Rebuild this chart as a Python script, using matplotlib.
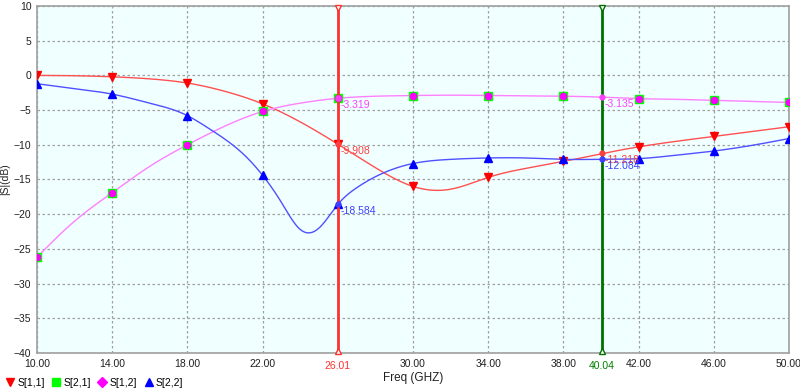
import numpy as np
import matplotlib
matplotlib.use("Agg")
import matplotlib.pyplot as plt

plt.rcParams["font.family"] = ["Liberation Sans", "DejaVu Sans"]

# ---- data ----
freq_marks = [10, 14, 18, 22, 26, 30, 34, 38, 42, 46, 50]
s11_marks = [0.0, -0.2, -1.1, -4.1, -9.9, -16.0, -14.7, -12.4, -10.3, -8.8, -7.4]
s21_marks = [-26.2, -16.9, -10.0, -5.2, -3.3, -2.9, -2.9, -3.0, -3.35, -3.6, -3.9]
s12_marks = [-26.2, -16.9, -10.0, -5.2, -3.3, -2.9, -2.9, -3.0, -3.35, -3.6, -3.9]
s22_marks = [-1.2, -2.7, -5.8, -14.4, -18.6, -12.7, -11.9, -12.1, -12.0, -10.9, -9.1]

# denser trace samples
freq_trace = [10, 12, 14, 16, 18, 20, 22, 24, 26, 28, 30, 32, 34, 36, 38, 40, 42, 44, 46, 48, 50]
s11_trace = [0.0, -0.05, -0.2, -0.5, -1.1, -2.3, -4.1, -6.7, -9.9, -13.3, -16.0, -16.4,
             -14.7, -13.4, -12.4, -11.3, -10.3, -9.5, -8.8, -8.1, -7.4]
s21_trace = [-26.2, -21.0, -16.9, -13.1, -10.0, -7.3, -5.2, -4.0, -3.3, -3.0, -2.9, -2.85,
             -2.9, -2.95, -3.0, -3.13, -3.35, -3.45, -3.6, -3.75, -3.9]
freq_trace22 = [10, 12, 14, 16, 18, 19, 20, 21, 22, 23, 24, 25, 26, 27, 28, 30, 32, 34,
                36, 38, 40, 42, 44, 46, 48, 50]
s22_trace = [-1.2, -1.9, -2.7, -4.0, -5.8, -7.4, -9.2, -11.4, -14.4, -18.3, -22.2, -22.0,
             -18.6, -16.2, -14.6, -12.7, -12.1, -11.9, -11.9, -12.1, -12.1, -12.0, -11.5,
             -10.9, -10.1, -9.1]

tick_vals = [10, 14, 18, 22, 30, 34, 38, 42, 46, 50]
tick_labels = ["10.00", "14.00", "18.00", "22.00", "30.00", "34.00", "38.00", "42.00", "46.00", "50.00"]
yticks = [10, 5, 0, -5, -10, -15, -20, -25, -30, -35, -40]

marker1 = 26.01
marker2 = 40.04
m1_vals = {"s12": -3.319, "s11": -9.908, "s22": -18.584}
m2_vals = {"s12": -3.135, "s11": -11.218, "s22": -12.084}


def spline(x, y, xs):
    x = np.asarray(x, float); y = np.asarray(y, float)
    n = len(x)
    h = np.diff(x)
    A = np.zeros((n, n)); b = np.zeros(n)
    A[0, 0] = 1; A[-1, -1] = 1
    for i in range(1, n - 1):
        A[i, i - 1] = h[i - 1]
        A[i, i] = 2 * (h[i - 1] + h[i])
        A[i, i + 1] = h[i]
        b[i] = 3 * ((y[i + 1] - y[i]) / h[i] - (y[i] - y[i - 1]) / h[i - 1])
    c = np.linalg.solve(A, b)
    out = np.empty_like(xs)
    for k, xv in enumerate(xs):
        i = min(np.searchsorted(x, xv) - 1, n - 2)
        i = max(i, 0)
        dx = xv - x[i]
        bb = (y[i + 1] - y[i]) / h[i] - h[i] * (2 * c[i] + c[i + 1]) / 3
        d = (c[i + 1] - c[i]) / (3 * h[i])
        out[k] = y[i] + bb * dx + c[i] * dx ** 2 + d * dx ** 3
    return out


fig = plt.figure(figsize=(8, 3.9), dpi=100)
ax = fig.add_axes([0.04625, 0.095, 0.94, 0.8896])
ax.set_facecolor("#F0FFFF")

xs = np.linspace(10, 50, 801)
c11, c21, c12, c22 = "#FF0000", "#00FF00", "#FF00FF", "#0000FF"

ax.plot(xs, spline(freq_trace, s11_trace, xs), color="#FF5050", lw=1.0, zorder=3)
ax.plot(xs, spline(freq_trace, s21_trace, xs), color="#FF80FF", lw=1.0, zorder=3)
ax.plot(xs, spline(freq_trace22, s22_trace, xs), color="#5050FF", lw=1.0, zorder=3)

ax.plot(freq_marks, s11_marks, ls="none", marker="v", ms=6, color=c11, zorder=5)
ax.plot(freq_marks, s21_marks, ls="none", marker="s", ms=5.5, color=c21, zorder=5)
ax.plot(freq_marks, s12_marks, ls="none", marker="o", ms=4.5, color=c12, zorder=6)
ax.plot(freq_marks, s22_marks, ls="none", marker="^", ms=6, color=c22, zorder=5)

# legend proxies
h1, = ax.plot([], [], ls="none", marker="v", ms=6, color=c11, label="S[1,1]")
h2, = ax.plot([], [], ls="none", marker="s", ms=5.5, color=c21, label="S[2,1]")
h3, = ax.plot([], [], ls="none", marker="D", ms=5, color=c12, label="S[1,2]")
h4, = ax.plot([], [], ls="none", marker="^", ms=6, color=c22, label="S[2,2]")

ax.set_xlim(10, 50)
ax.set_ylim(-40, 10)

# markers
for mx, mc in [(marker1, "#FF3030"), (marker2, "#007000")]:
    ax.axvline(mx, color=mc, lw=2, zorder=7)
    ax.plot([mx], [9.75], marker="v", ms=4, mfc="white", mec=mc, mew=1, clip_on=False, zorder=8)
    ax.plot([mx], [-39.75], marker="^", ms=4, mfc="white", mec=mc, mew=1, clip_on=False, zorder=8)

for mx, vals in [(marker1, m1_vals), (marker2, m2_vals)]:
    for key, col in [("s12", "#FF40FF"), ("s11", "#FF4040"), ("s22", "#4040FF")]:
        v = vals[key]
        ax.plot([mx], [v], marker="o", ms=3.5, color=col, zorder=9)
        ax.text(mx + 0.15, v - 0.25, f"{v:.3f}", color=col, fontsize=7.5, va="top", ha="left", zorder=9)

ax.set_xticks(tick_vals)
ax.set_xticklabels(tick_labels)
ax.set_yticks(yticks)
ax.tick_params(axis="both", labelsize=7.5, length=0, pad=4, labelcolor="#202020")
ax.text(marker1, -41.2, f"{marker1:.2f}", color="#FF3030", fontsize=7.5, ha="center", va="top")
ax.text(marker2, -41.2, f"{marker2:.2f}", color="#008000", fontsize=7.5, ha="center", va="top")

ax.grid(True, color="#A0A0A0", ls=(0, (2, 2)), lw=0.9)
for sp in ax.spines.values():
    sp.set_color("#A0A0A0")
    sp.set_linewidth(1.2)

ax.set_xlabel("Freq (GHZ)", fontsize=8.5, labelpad=2, color="#202020")
ax.xaxis.set_label_coords(0.5, -0.055)
ax.set_ylabel("|S|(dB)", fontsize=7.5, labelpad=2, color="#202020")
ax.yaxis.set_label_coords(-0.036, 0.5)

fig.legend(handles=[h1, h2, h3, h4], loc="lower left", bbox_to_anchor=(-0.002, -0.01),
           ncol=4, frameon=False, fontsize=7.5, handlelength=1.0, handletextpad=0.2,
           columnspacing=0.6, borderaxespad=0.2)

fig.savefig("out.png", dpi=100)
